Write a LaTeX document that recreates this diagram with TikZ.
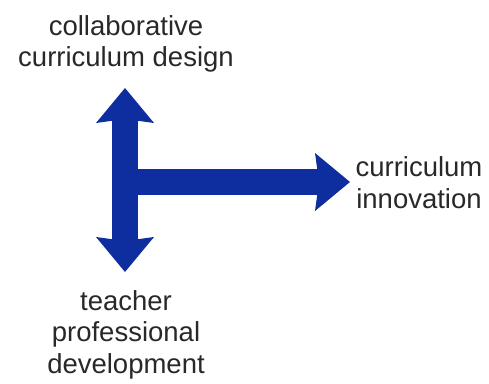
\documentclass[tikz,border=0pt]{standalone}
\usepackage{fontspec}
\setmainfont{Liberation Sans}
\usepackage{tikz}
\usetikzlibrary{arrows.meta}
\definecolor{arrowblue}{RGB}{14,46,160}
\definecolor{textgray}{RGB}{40,40,40}
\tikzset{
    labeltext/.style={text=textgray, align=center, inner sep=0pt,
        font=\fontsize{27.5}{31.5}\selectfont},
    bigtip/.tip={Stealth[length=35pt, width=58pt, inset=4pt, line width=0pt]},
    bigarrow/.style={arrowblue, line width=26pt}
}

\begin{document}
\begin{tikzpicture}[x=1pt, y=1pt]
    \useasboundingbox (0,0) rectangle (489,383);

    % the three labels (base = last line)
    \node[labeltext, anchor=base] (design) at (126,316) {collaborative\\curriculum design};
    \node[labeltext, anchor=base] (teacher) at (126,10) {teacher\\professional\\development};
    \node[labeltext, anchor=base] (innov) at (419,175) {curriculum\\innovation};

    % ends of the arrows
    \coordinate (uptip) at (125,295);
    \coordinate (downtip) at (125,111);
    \coordinate (joint) at (125,201);
    \coordinate (righttip) at (350,201);

    % vertical double arrow
    \draw[bigarrow, bigtip-bigtip] (uptip) -- (downtip);

    % horizontal arrow towards innovation
    \draw[bigarrow, -bigtip] (joint) -- (righttip);
\end{tikzpicture}
\end{document}
